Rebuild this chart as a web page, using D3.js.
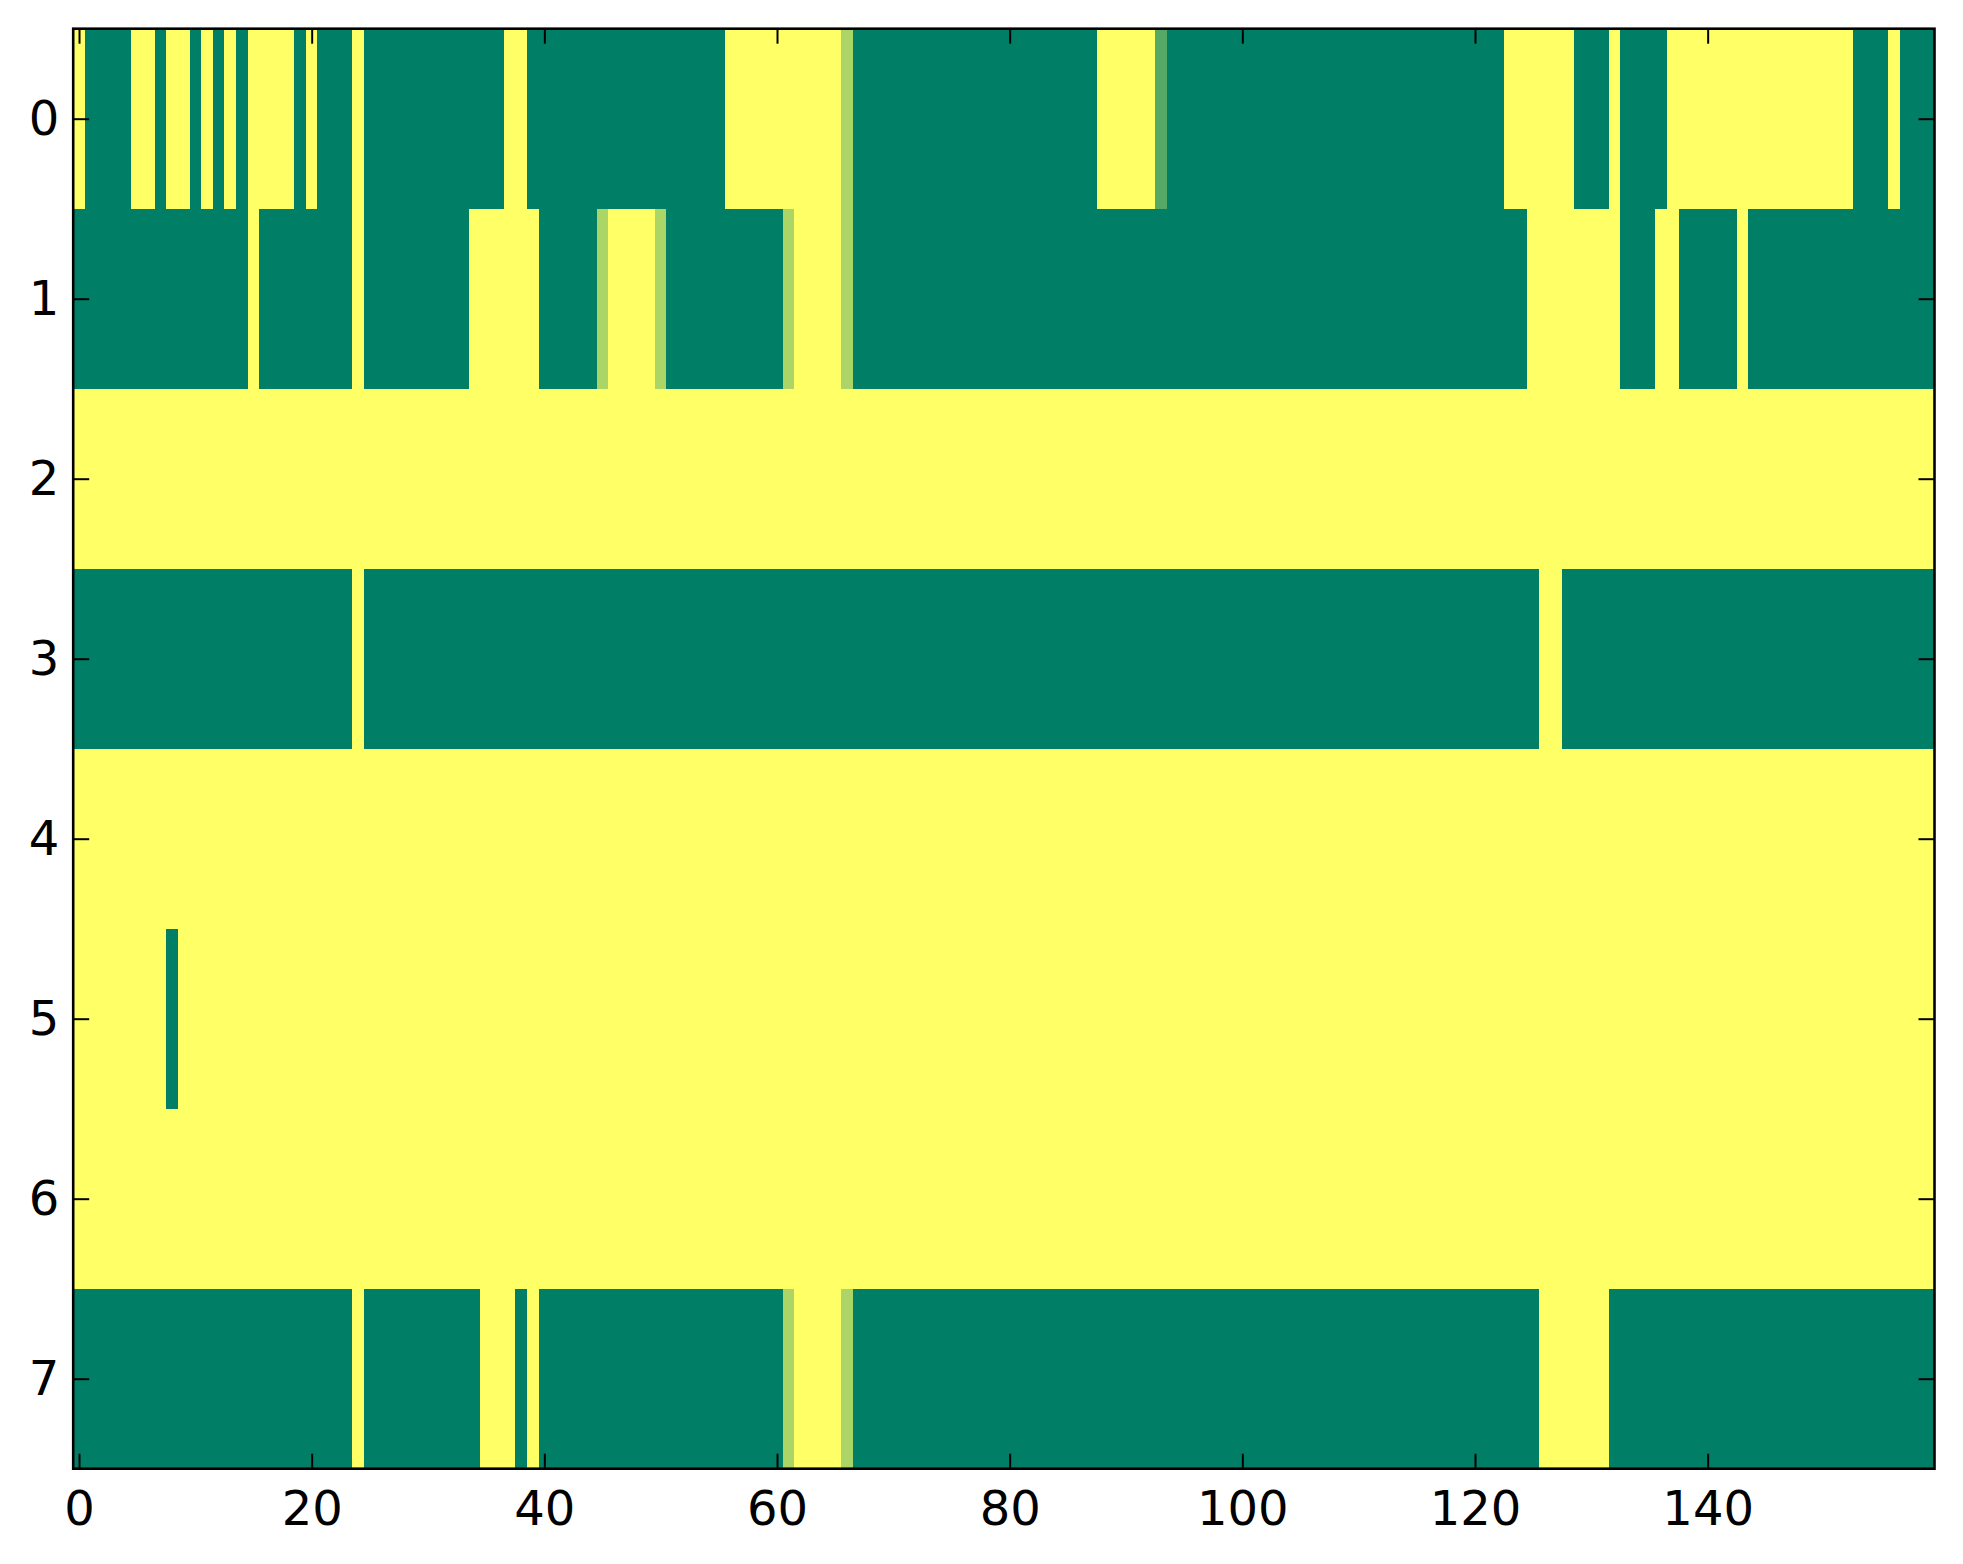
<!DOCTYPE html>
<html>
<head>
<meta charset="utf-8">
<script src="https://cdn.jsdelivr.net/npm/d3@7"></script>
<style>
  body {
    margin: 0;
    background: #fff;
  }

  svg {
    font-family: "DejaVu Sans", sans-serif;
  }

  .cell {
    shape-rendering: crispEdges;
  }

  .axis path {
    display: none;
  }

  .axis line {
    stroke: #000;
    stroke-width: 2px;
  }

  .axis text {
    font-size: 48px;
    fill: #000;
  }

  .frame {
    fill: none;
    stroke: #000;
    stroke-width: 2.6px;
  }
</style>
</head>
<body>
<svg id="chart"></svg>
<script>
// values per row, one entry per column (0 = green end, 1 = yellow end of "summer")
var row0 = [
  1, 0, 0, 0, 0, 1, 1, 0, 1, 1,  0, 1, 0, 1, 0, 1, 1, 1, 1, 0,
  1, 0, 0, 0, 1, 0, 0, 0, 0, 0,  0, 0, 0, 0, 0, 0, 0, 1, 1, 0,
  0, 0, 0, 0, 0, 0, 0, 0, 0, 0,  0, 0, 0, 0, 0, 0, 1, 1, 1, 1,
  1, 1, 1, 1, 1, 1, .67, 0, 0, 0,  0, 0, 0, 0, 0, 0, 0, 0, 0, 0,
  0, 0, 0, 0, 0, 0, 0, 0, 1, 1,  1, 1, 1, .33, 0, 0, 0, 0, 0, 0,
  0, 0, 0, 0, 0, 0, 0, 0, 0, 0,  0, 0, 0, 0, 0, 0, 0, 0, 0, 0,
  0, 0, 0, 1, 1, 1, 1, 1, 1, 0,  0, 0, 1, 0, 0, 0, 0, 1, 1, 1,
  1, 1, 1, 1, 1, 1, 1, 1, 1, 1,  1, 1, 1, 0, 0, 0, 1, 0, 0, 0
];
var row1 = [
  0, 0, 0, 0, 0, 0, 0, 0, 0, 0,  0, 0, 0, 0, 0, 1, 0, 0, 0, 0,
  0, 0, 0, 0, 1, 0, 0, 0, 0, 0,  0, 0, 0, 0, 1, 1, 1, 1, 1, 1,
  0, 0, 0, 0, 0, .67, 1, 1, 1, 1,  .67, 0, 0, 0, 0, 0, 0, 0, 0, 0,
  0, .67, 1, 1, 1, 1, .67, 0, 0, 0,  0, 0, 0, 0, 0, 0, 0, 0, 0, 0,
  0, 0, 0, 0, 0, 0, 0, 0, 0, 0,  0, 0, 0, 0, 0, 0, 0, 0, 0, 0,
  0, 0, 0, 0, 0, 0, 0, 0, 0, 0,  0, 0, 0, 0, 0, 0, 0, 0, 0, 0,
  0, 0, 0, 0, 0, 1, 1, 1, 1, 1,  1, 1, 1, 0, 0, 0, 1, 1, 0, 0,
  0, 0, 0, 1, 0, 0, 0, 0, 0, 0,  0, 0, 0, 0, 0, 0, 0, 0, 0, 0
];
var row2 = [
  1, 1, 1, 1, 1, 1, 1, 1, 1, 1,  1, 1, 1, 1, 1, 1, 1, 1, 1, 1,
  1, 1, 1, 1, 1, 1, 1, 1, 1, 1,  1, 1, 1, 1, 1, 1, 1, 1, 1, 1,
  1, 1, 1, 1, 1, 1, 1, 1, 1, 1,  1, 1, 1, 1, 1, 1, 1, 1, 1, 1,
  1, 1, 1, 1, 1, 1, 1, 1, 1, 1,  1, 1, 1, 1, 1, 1, 1, 1, 1, 1,
  1, 1, 1, 1, 1, 1, 1, 1, 1, 1,  1, 1, 1, 1, 1, 1, 1, 1, 1, 1,
  1, 1, 1, 1, 1, 1, 1, 1, 1, 1,  1, 1, 1, 1, 1, 1, 1, 1, 1, 1,
  1, 1, 1, 1, 1, 1, 1, 1, 1, 1,  1, 1, 1, 1, 1, 1, 1, 1, 1, 1,
  1, 1, 1, 1, 1, 1, 1, 1, 1, 1,  1, 1, 1, 1, 1, 1, 1, 1, 1, 1
];
var row3 = [
  0, 0, 0, 0, 0, 0, 0, 0, 0, 0,  0, 0, 0, 0, 0, 0, 0, 0, 0, 0,
  0, 0, 0, 0, 1, 0, 0, 0, 0, 0,  0, 0, 0, 0, 0, 0, 0, 0, 0, 0,
  0, 0, 0, 0, 0, 0, 0, 0, 0, 0,  0, 0, 0, 0, 0, 0, 0, 0, 0, 0,
  0, 0, 0, 0, 0, 0, 0, 0, 0, 0,  0, 0, 0, 0, 0, 0, 0, 0, 0, 0,
  0, 0, 0, 0, 0, 0, 0, 0, 0, 0,  0, 0, 0, 0, 0, 0, 0, 0, 0, 0,
  0, 0, 0, 0, 0, 0, 0, 0, 0, 0,  0, 0, 0, 0, 0, 0, 0, 0, 0, 0,
  0, 0, 0, 0, 0, 0, 1, 1, 0, 0,  0, 0, 0, 0, 0, 0, 0, 0, 0, 0,
  0, 0, 0, 0, 0, 0, 0, 0, 0, 0,  0, 0, 0, 0, 0, 0, 0, 0, 0, 0
];
var row4 = [
  1, 1, 1, 1, 1, 1, 1, 1, 1, 1,  1, 1, 1, 1, 1, 1, 1, 1, 1, 1,
  1, 1, 1, 1, 1, 1, 1, 1, 1, 1,  1, 1, 1, 1, 1, 1, 1, 1, 1, 1,
  1, 1, 1, 1, 1, 1, 1, 1, 1, 1,  1, 1, 1, 1, 1, 1, 1, 1, 1, 1,
  1, 1, 1, 1, 1, 1, 1, 1, 1, 1,  1, 1, 1, 1, 1, 1, 1, 1, 1, 1,
  1, 1, 1, 1, 1, 1, 1, 1, 1, 1,  1, 1, 1, 1, 1, 1, 1, 1, 1, 1,
  1, 1, 1, 1, 1, 1, 1, 1, 1, 1,  1, 1, 1, 1, 1, 1, 1, 1, 1, 1,
  1, 1, 1, 1, 1, 1, 1, 1, 1, 1,  1, 1, 1, 1, 1, 1, 1, 1, 1, 1,
  1, 1, 1, 1, 1, 1, 1, 1, 1, 1,  1, 1, 1, 1, 1, 1, 1, 1, 1, 1
];
var row5 = [
  1, 1, 1, 1, 1, 1, 1, 1, 0, 1,  1, 1, 1, 1, 1, 1, 1, 1, 1, 1,
  1, 1, 1, 1, 1, 1, 1, 1, 1, 1,  1, 1, 1, 1, 1, 1, 1, 1, 1, 1,
  1, 1, 1, 1, 1, 1, 1, 1, 1, 1,  1, 1, 1, 1, 1, 1, 1, 1, 1, 1,
  1, 1, 1, 1, 1, 1, 1, 1, 1, 1,  1, 1, 1, 1, 1, 1, 1, 1, 1, 1,
  1, 1, 1, 1, 1, 1, 1, 1, 1, 1,  1, 1, 1, 1, 1, 1, 1, 1, 1, 1,
  1, 1, 1, 1, 1, 1, 1, 1, 1, 1,  1, 1, 1, 1, 1, 1, 1, 1, 1, 1,
  1, 1, 1, 1, 1, 1, 1, 1, 1, 1,  1, 1, 1, 1, 1, 1, 1, 1, 1, 1,
  1, 1, 1, 1, 1, 1, 1, 1, 1, 1,  1, 1, 1, 1, 1, 1, 1, 1, 1, 1
];
var row6 = [
  1, 1, 1, 1, 1, 1, 1, 1, 1, 1,  1, 1, 1, 1, 1, 1, 1, 1, 1, 1,
  1, 1, 1, 1, 1, 1, 1, 1, 1, 1,  1, 1, 1, 1, 1, 1, 1, 1, 1, 1,
  1, 1, 1, 1, 1, 1, 1, 1, 1, 1,  1, 1, 1, 1, 1, 1, 1, 1, 1, 1,
  1, 1, 1, 1, 1, 1, 1, 1, 1, 1,  1, 1, 1, 1, 1, 1, 1, 1, 1, 1,
  1, 1, 1, 1, 1, 1, 1, 1, 1, 1,  1, 1, 1, 1, 1, 1, 1, 1, 1, 1,
  1, 1, 1, 1, 1, 1, 1, 1, 1, 1,  1, 1, 1, 1, 1, 1, 1, 1, 1, 1,
  1, 1, 1, 1, 1, 1, 1, 1, 1, 1,  1, 1, 1, 1, 1, 1, 1, 1, 1, 1,
  1, 1, 1, 1, 1, 1, 1, 1, 1, 1,  1, 1, 1, 1, 1, 1, 1, 1, 1, 1
];
var row7 = [
  0, 0, 0, 0, 0, 0, 0, 0, 0, 0,  0, 0, 0, 0, 0, 0, 0, 0, 0, 0,
  0, 0, 0, 0, 1, 0, 0, 0, 0, 0,  0, 0, 0, 0, 0, 1, 1, 1, 0, 1,
  0, 0, 0, 0, 0, 0, 0, 0, 0, 0,  0, 0, 0, 0, 0, 0, 0, 0, 0, 0,
  0, .67, 1, 1, 1, 1, .67, 0, 0, 0,  0, 0, 0, 0, 0, 0, 0, 0, 0, 0,
  0, 0, 0, 0, 0, 0, 0, 0, 0, 0,  0, 0, 0, 0, 0, 0, 0, 0, 0, 0,
  0, 0, 0, 0, 0, 0, 0, 0, 0, 0,  0, 0, 0, 0, 0, 0, 0, 0, 0, 0,
  0, 0, 0, 0, 0, 0, 1, 1, 1, 1,  1, 1, 0, 0, 0, 0, 0, 0, 0, 0,
  0, 0, 0, 0, 0, 0, 0, 0, 0, 0,  0, 0, 0, 0, 0, 0, 0, 0, 0, 0
];

var rows = [row0, row1, row2, row3, row4, row5, row6, row7];
var xTicks = [0, 20, 40, 60, 80, 100, 120, 140];
var yTicks = [0, 1, 2, 3, 4, 5, 6, 7];

var width = 1963, height = 1564;
var margin = {left: 73.2, right: 1934.5, top: 28.7, bottom: 1468.7};

var x = d3.scaleLinear()
  .domain([-0.5, row0.length - 0.5])
  .range([margin.left, margin.right]);

var y = d3.scaleLinear()
  .domain([-0.5, rows.length - 0.5])
  .range([margin.top, margin.bottom]);

// matplotlib "summer": green (0, .5, .4) -> yellow (1, 1, .4)
var color = d3.scaleLinear()
  .domain([0, 1])
  .range(["#007f66", "#ffff66"]);

var svg = d3.select("#chart")
  .attr("width", width)
  .attr("height", height);

var cells = [];
rows.forEach(function(r, i) {
  r.forEach(function(v, j) {
    cells.push({row: i, col: j, value: v});
  });
});

svg.append("g")
  .selectAll("rect")
  .data(cells)
  .enter().append("rect")
  .attr("class", "cell")
  .attr("x", function(d) { return x(d.col - 0.5); })
  .attr("y", function(d) { return y(d.row - 0.5); })
  .attr("width", function(d) { return x(d.col + 0.5) - x(d.col - 0.5) + 0.5; })
  .attr("height", function(d) { return y(d.row + 0.5) - y(d.row - 0.5) + 0.5; })
  .attr("fill", function(d) { return color(d.value); });

// ticks point inward on all four sides, labels only bottom and left
svg.append("g")
  .attr("class", "x axis")
  .attr("transform", "translate(0," + margin.bottom + ")")
  .call(d3.axisBottom(x).tickValues(xTicks).tickSize(-15).tickPadding(22).tickFormat(d3.format("d")));

svg.append("g")
  .attr("class", "x axis")
  .attr("transform", "translate(0," + margin.top + ")")
  .call(d3.axisTop(x).tickValues(xTicks).tickSize(-15).tickFormat(""));

svg.append("g")
  .attr("class", "y axis")
  .attr("transform", "translate(" + margin.left + ",0)")
  .call(d3.axisLeft(y).tickValues(yTicks).tickSize(-16).tickPadding(14).tickFormat(d3.format("d")));

svg.append("g")
  .attr("class", "y axis")
  .attr("transform", "translate(" + margin.right + ",0)")
  .call(d3.axisRight(y).tickValues(yTicks).tickSize(-16).tickFormat(""));

svg.selectAll(".axis").attr("font-size", null).attr("font-family", null);

svg.append("rect")
  .attr("class", "frame")
  .attr("x", margin.left)
  .attr("y", margin.top)
  .attr("width", margin.right - margin.left)
  .attr("height", margin.bottom - margin.top);
</script>
</body>
</html>
